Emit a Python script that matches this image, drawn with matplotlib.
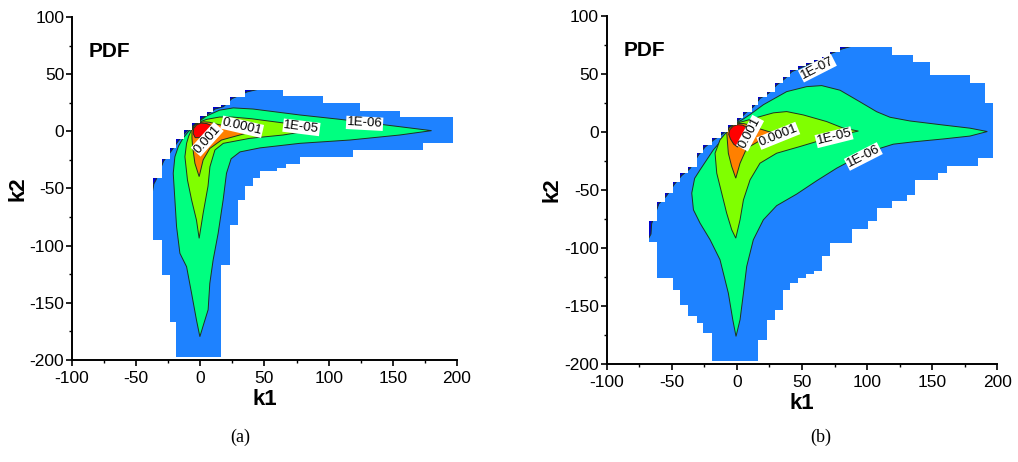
import matplotlib
matplotlib.use('Agg')
import matplotlib.pyplot as plt
from matplotlib.patches import Polygon
from matplotlib.ticker import MultipleLocator

plt.rcParams['font.family'] = ['Liberation Sans', 'DejaVu Sans']
plt.rcParams['axes.unicode_minus'] = False

# band colours, lowest level first
band_colors = ['#0000cc', '#1e82ff', '#00ff80', '#80ff00', '#ff8000', '#ff0000']
line_color = '#1f331f'

# ---------------- panel (a) ----------------
# binned support: column edges in k1, lowest / highest k2 of each column
a_edges = [-37, -30, -24, -19, -13, -6.5, 0, 5, 10, 16.5, 23, 29.5, 35, 41, 46.5,
           59.5, 64.5, 67, 77.5, 95.5, 119, 124.5, 155.5, 173.5, 197]
a_lo = [-95, -126, -167, -197, -197, -197, -197, -197, -197, -117, -82, -60, -48,
        -41, -35, -32, -32, -29, -22.7, -22.7, -16.3, -16.3, -16.3, -10.5]
a_hi = [-41, -24, -15, -7, 1, 7, 13, 17, 21, 23, 30, 30, 36, 36, 36, 36, 31, 31,
        31, 24.5, 24.5, 18, 12.3, 12.3]

# 1E-07 contour along the upper-left edge
a_e07_k1 = [-40, -38.5, -36.2, -34.5, -28.6, -22.5, -17.5, -11.5, -5, 1.5, 6.5,
            11.5, 18, 24.5, 36.5, 46, 70, 215]
a_e07_k2 = [-215, -60, -46, -42.5, -26, -17, -9, -1, 5.5, 11.5, 15.5, 19.5, 21.5,
            28.5, 34.5, 37, 40, 45]

a_e06_k1 = [-21.1, -19.8, -17, -13.5, -9.5, -5, 0, 5, 15, 25.7, 41.2, 51.7, 77.6,
            108.8, 145, 180.2, 155.5, 116.6, 77.6, 46.4, 30.9, 24, 20.4, 17.8,
            13.9, 10, 7.4, 6.1, 2.8, -0.35, -3, -6.8, -10.7, -15.9, -18.5, -19.8]
a_e06_k2 = [-36.7, -22.2, -13, -6, -0.5, 4.5, 9.5, 13.5, 18.5, 20.5, 19.5, 18,
            14.3, 10.5, 5.5, 0.6, -3.2, -7.6, -10.5, -14.5, -18, -24, -36.7, -60,
            -89.2, -112.5, -133, -156, -168, -179.6, -165, -141.7, -118.4,
            -106.7, -83.4, -60]

a_e05_k1 = [-12, -10.7, -9, -6.5, -3, 1, 5, 10, 15, 25, 40, 50, 67, 85.4, 64.6,
            38.7, 17.9, 11.4, 7.5, 6, 2.2, -0.9, -3, -6.8, -10]
a_e05_k2 = [-22.2, -10.5, -4, 2, 6.5, 8.8, 10.5, 11.5, 12.5, 12.5, 11, 9.5, 7,
            0.6, -3.2, -6.1, -10.5, -16.3, -31, -48, -71.7, -93.6, -77.6, -60,
            -42.6]

a_e04_k1 = [-6.5, -6.5, -4.5, -1, 3, 7, 12, 20, 30, 40, 30.8, 16.5, 7.4, 2.2,
            -0.9, -4.2, -6]
a_e04_k2 = [-6, 1, 5, 7.5, 8.3, 8, 6.5, 4.5, 2.2, -0.3, -3.2, -7.6, -15, -25,
            -39.6, -28, -13.4]

a_e03_k1 = [-5.5, -5.2, -3, 0.5, 5, 9, 6, 2.5, -1, -4]
a_e03_k2 = [-2, 2.5, 5.5, 7.2, 6.8, 5, 1, -3, -5.5, -5.5]

a_labels = ['0.001', '0.0001', '1E-05', '1E-06']
a_label_k1 = [5.4, 32.6, 78.8, 128]
a_label_k2 = [-7, 4, 3.5, 7]
a_label_rot = [48, -13, -7, -3]

# ---------------- panel (b) ----------------
b_edges = [-67.3, -61.6, -55.2, -49.3, -43.7, -37.3, -30.9, -25.8, -19.4, -12,
           -6.6, 0, 5, 11.4, 16.5, 22.9, 29.3, 35.6, 40.8, 47.1, 53, 59, 65.1,
           71.5, 79.2, 88.2, 101, 107.4, 118.9, 130.4, 135.5, 136.8, 148.3,
           154.7, 161.1, 179, 185.4, 190.5, 196.9]
b_lo = [-95, -126, -126, -136, -149, -159, -164.7, -173.3, -197, -197, -197,
        -197, -197, -197, -179, -161.8, -153.2, -136, -130.2, -125.9, -122,
        -120, -107.3, -95.8, -95.8, -84, -77, -65.6, -59.9, -54.2, -54.2, -41.2,
        -41.2, -35, -29.2, -29.2, -22.6, -22.6]
b_hi = [-77, -60, -52.7, -42.7, -35.5, -29.8, -18.2, -11, -5.3, 0.4, 6.1, 11.9,
        17.6, 23.3, 30.5, 34.8, 42, 47.7, 53.5, 56.5, 59.5, 62, 65, 69.3, 73, 73,
        73, 73, 66.4, 66.4, 60.6, 60.6, 49.2, 49.2, 49.2, 42.6, 42.6, 24.8]

b_e07_k1 = [-70, -70, -66, -65.5, -60, -54, -48, -42.4, -36, -29.6, -24.5, -18,
            -10.7, -5.3, 1.3, 6.3, 12.7, 17.8, 24.2, 30.6, 37, 42.1, 48.4, 54.3,
            60.3, 66.4, 72.8, 80.5, 90, 215]
b_e07_k2 = [-215, -96, -88, -79, -62, -55, -45, -37.5, -31.5, -20, -13, -7, -1.3,
            4.5, 10.3, 16, 21.8, 29, 33.3, 40.5, 46.2, 52, 55, 58, 60.5, 63.5,
            67.8, 71.5, 74.5, 80]

b_e06_k1 = [-34.7, -32.5, -28.3, -18.1, -10.4, -6, -3, 0.5, 4, 10, 20.3, 38.2,
            53.6, 65.1, 79.2, 94.5, 107.3, 117.6, 132.9, 158.5, 179, 192.3, 179,
            158.5, 135.5, 120.1, 107.3, 92, 76.6, 61.3, 45.9, 30.5, 20.3, 12.6,
            7.5, 5, 2.4, -0.7, -3.2, -6.6, -13, -20.6, -28.3, -33.4]
b_e06_k2 = [-52.7, -40, -32.6, -15.4, -5.3, 0.5, 5, 8.5, 10.5, 15, 23.5, 34.8,
            39.1, 40, 36, 26, 17.5, 12.7, 9.5, 6, 3.3, 0.4, -3.5, -6, -8.5, -10.5,
            -15, -22, -31.2, -42, -53.5, -63.5, -75.7, -92.9, -115.9, -138.9,
            -161.8, -176.2, -161.8, -138.9, -110.1, -92.9, -78.6, -67.1]

b_e05_k1 = [-16.8, -13, -9, -5.5, -2, 2, 6, 15.2, 28, 38.2, 51, 68.9, 81.7, 93.3,
            74, 61.3, 48.5, 30.5, 17.7, 10.1, 5, 2.4, -0.9, -4, -7.9, -11.7, -15.5]
b_e05_k2 = [-18.3, -6.8, -1.5, 3, 7, 8.3, 9.5, 12.5, 16.5, 17.6, 14.7, 9, 3.3,
            0.8, -3.9, -8.2, -12.5, -18.3, -26.9, -41.2, -58.5, -75.7, -91.5,
            -84.3, -69.9, -52.7, -35.5]

b_e04_k1 = [-7.8, -6, -2.5, 1.5, 5, 8, 15.2, 24, 31, 25.4, 16.5, 7.5, 2.4, -0.9,
            -4, -6.6]
b_e04_k2 = [-1, 3.5, 6.3, 7.3, 7.3, 6.5, 3.5, 0.5, -1.5, -3.9, -8.2, -14, -26.9,
            -39.8, -29.8, -18.3]

b_e03_k1 = [-6.3, -5.5, -3, 0.5, 4, 7, 5, 2.5, 0.5, -2.5, -5]
b_e03_k2 = [-2, 2, 5, 6.3, 6, 4.5, -2, -8, -13, -10.5, -6]

b_labels = ['0.001', '0.0001', '1E-05', '1E-06', '1E-07']
b_label_k1 = [10.1, 31.8, 74.6, 97.1, 61.8]
b_label_k2 = [-1, -3.3, -4.5, -21.1, 55]
b_label_rot = [62, 22, 14, 27, 27]


def step_outline(edges, lo, hi):
    pts = []
    for i in range(len(hi)):
        pts += [(edges[i], hi[i]), (edges[i + 1], hi[i])]
    for i in reversed(range(len(lo))):
        pts += [(edges[i + 1], lo[i]), (edges[i], lo[i])]
    return pts


def draw_panel(ax, edges, lo, hi, e07, levels, labels, lk1, lk2, lrot):
    outer = Polygon(step_outline(edges, lo, hi), closed=True,
                    fc=band_colors[0], ec='none')
    ax.add_patch(outer)

    k1, k2 = e07
    pts = list(zip(k1, k2)) + [(215, -215)]
    band = Polygon(pts, closed=True, fc=band_colors[1], ec='none')
    ax.add_patch(band)
    band.set_clip_path(outer)
    ln, = ax.plot(k1, k2, color=line_color, lw=0.7)
    ln.set_clip_path(outer)

    for (k1, k2), c in zip(levels, band_colors[2:]):
        p = Polygon(list(zip(k1, k2)), closed=True, fc=c, ec=line_color, lw=0.7)
        ax.add_patch(p)
        p.set_clip_path(outer)

    for t, x, y, r in zip(labels, lk1, lk2, lrot):
        ax.text(x, y, t, fontsize=9.5, rotation=r, ha='center', va='center',
                rotation_mode='anchor',
                bbox=dict(fc='white', ec='none', pad=0.5))

    ax.text(-87, 70, 'PDF', fontsize=15, fontweight='bold', ha='left', va='center')

    ax.set_xlim(-100, 200)
    ax.set_ylim(-200, 100)
    ax.xaxis.set_major_locator(MultipleLocator(50))
    ax.xaxis.set_minor_locator(MultipleLocator(25))
    ax.yaxis.set_major_locator(MultipleLocator(50))
    ax.yaxis.set_minor_locator(MultipleLocator(25))
    ax.spines['top'].set_visible(False)
    ax.spines['right'].set_visible(False)
    ax.spines['left'].set_linewidth(1.4)
    ax.spines['bottom'].set_linewidth(1.4)
    ax.tick_params(which='major', direction='out', length=4, width=1.2,
                   labelsize=12.5)
    ax.tick_params(which='minor', direction='out', length=2.5, width=1)
    ax.tick_params(axis='y', which='major', pad=1.5)
    ax.tick_params(axis='x', which='major', pad=4)
    ax.set_xlabel('k1', fontsize=16, fontweight='bold', labelpad=2)
    ax.set_ylabel('k2', fontsize=16, fontweight='bold', labelpad=1)


fig = plt.figure(figsize=(10.18, 4.62), dpi=100)
ax_a = fig.add_axes([0.0707, 0.2208, 0.3782, 0.7424])
ax_b = fig.add_axes([0.596, 0.2121, 0.3837, 0.7533])

draw_panel(ax_a, a_edges, a_lo, a_hi, (a_e07_k1, a_e07_k2),
           [(a_e06_k1, a_e06_k2), (a_e05_k1, a_e05_k2),
            (a_e04_k1, a_e04_k2), (a_e03_k1, a_e03_k2)],
           a_labels, a_label_k1, a_label_k2, a_label_rot)
draw_panel(ax_b, b_edges, b_lo, b_hi, (b_e07_k1, b_e07_k2),
           [(b_e06_k1, b_e06_k2), (b_e05_k1, b_e05_k2),
            (b_e04_k1, b_e04_k2), (b_e03_k1, b_e03_k2)],
           b_labels, b_label_k1, b_label_k2, b_label_rot)

fig.text(0.236, 0.054, '(a)', fontsize=13, family='Liberation Serif',
         ha='center', va='center')
fig.text(0.806, 0.054, '(b)', fontsize=13, family='Liberation Serif',
         ha='center', va='center')

fig.savefig('out.png', dpi=100)
